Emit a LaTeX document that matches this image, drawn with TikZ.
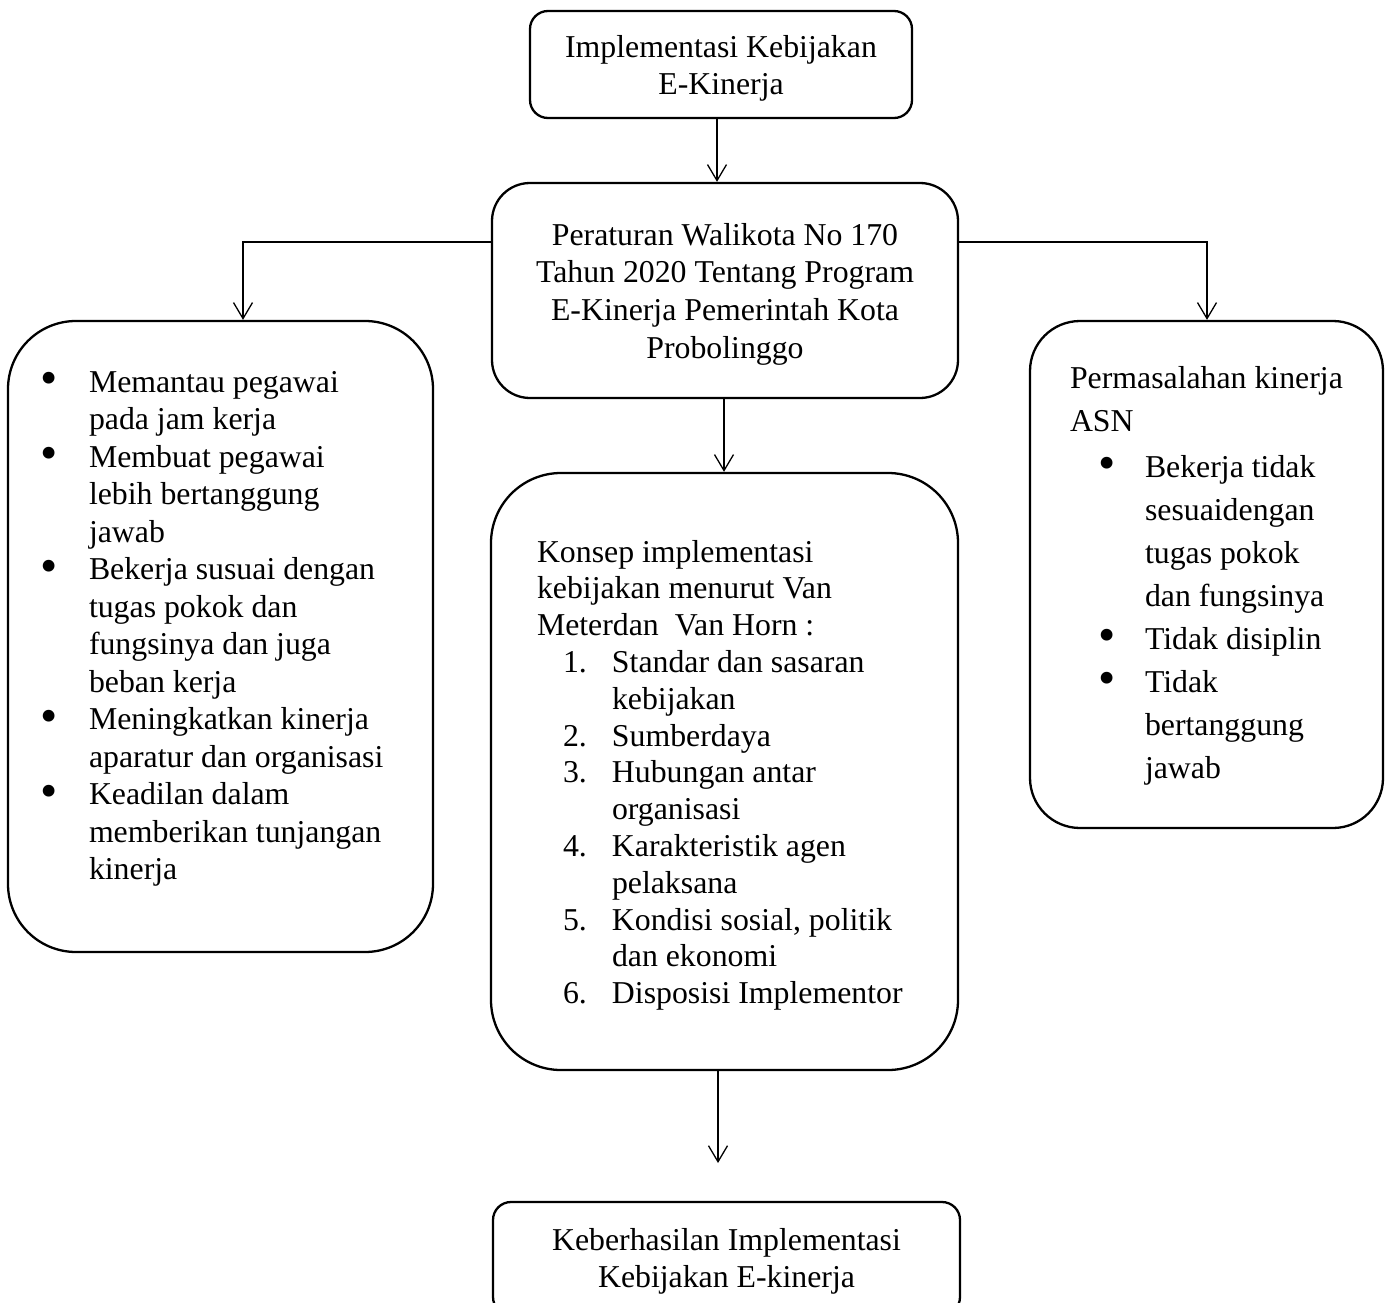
\documentclass[tikz,border=0pt]{standalone}
\usepackage{fontspec}
\usepackage{graphicx}
\setmainfont{Liberation Serif}
\usetikzlibrary{arrows.meta}
\newcommand{\bul}{\smash{\raisebox{-2.5pt}{\scalebox{1.55}{\textbullet}}}}
\tikzset{
  boxstyle/.style={draw=black, line width=2.3pt, inner sep=0pt},
  txt/.style={inner sep=0pt, outer sep=0pt},
  arr/.style={draw=black, line width=1.3pt, -{Straight Barb[length=16pt,width=19pt,line width=1.3pt]}},
  conn/.style={draw=black, line width=1.3pt},
}
\begin{document}
\begin{tikzpicture}[x=1pt,y=-1pt]
\useasboundingbox (0,0) rectangle (1392,1303);
% boxes
\node[boxstyle, rounded corners=18pt, minimum width=382pt, minimum height=107pt] (top) at (721,64.5) {};
\node[boxstyle, rounded corners=38pt, minimum width=466pt, minimum height=215pt] (per) at (725,290.5) {};
\node[boxstyle, rounded corners=68pt, minimum width=425pt, minimum height=631pt] (left) at (220.5,636.5) {};
\node[boxstyle, rounded corners=50pt, minimum width=353pt, minimum height=507pt] (right) at (1206.5,574.5) {};
\node[boxstyle, rounded corners=70pt, minimum width=467pt, minimum height=597pt] (kon) at (724.5,771.5) {};
\node[boxstyle, rounded corners=18pt, minimum width=467pt, minimum height=113pt] (bot) at (726.5,1258.5) {};
% texts
\node[txt, anchor=base, font=\fontsize{31.8pt}{37pt}\selectfont] (toptxt) at (721,58)
  {\begin{tabular}[t]{@{}c@{}}Implementasi Kebijakan\\E-Kinerja\end{tabular}};
\node[txt, anchor=base, font=\fontsize{31.8pt}{37.7pt}\selectfont] (pertxt) at (725,245)
  {\begin{tabular}[t]{@{}c@{}}Peraturan Walikota No 170\\Tahun 2020 Tentang Program\\E-Kinerja Pemerintah Kota\\Probolinggo\end{tabular}};
\node[txt, anchor=base west, font=\fontsize{31.8pt}{37.5pt}\selectfont] (lefttxt) at (40,392)
  {\begin{tabular}[t]{@{}l@{}l@{}}
  \makebox[49pt][l]{\bul} & Memantau pegawai\\
   & pada jam kerja\\
  \makebox[49pt][l]{\bul} & Membuat pegawai\\
   & lebih bertanggung\\
   & jawab\\
  \makebox[49pt][l]{\bul} & Bekerja susuai dengan\\
   & tugas pokok dan\\
   & fungsinya dan juga\\
   & beban kerja\\
  \makebox[49pt][l]{\bul} & Meningkatkan kinerja\\
   & aparatur dan organisasi\\
  \makebox[49pt][l]{\bul} & Keadilan dalam\\
   & memberikan tunjangan\\
   & kinerja
  \end{tabular}};
\node[txt, anchor=base west, font=\fontsize{31.8pt}{43pt}\selectfont] (righttxt) at (1070,388)
  {\begin{tabular}[t]{@{}l@{}l@{}l@{}}
  \multicolumn{3}{@{}l@{}}{Permasalahan kinerja}\\
  \multicolumn{3}{@{}l@{}}{ASN}\\[3pt]
  \hspace{28pt} & \makebox[47pt][l]{\bul} & Bekerja tidak\\
   & & sesuaidengan\\
   & & tugas pokok\\
   & & dan fungsinya\\
   & \makebox[47pt][l]{\bul} & Tidak disiplin\\
   & \makebox[47pt][l]{\bul} & Tidak\\
   & & bertanggung\\
   & & jawab
  \end{tabular}};
\node[txt, anchor=base west, font=\fontsize{31.8pt}{36.8pt}\selectfont] (kontxt) at (537,562)
  {\begin{tabular}[t]{@{}l@{}l@{}l@{}}
  \multicolumn{3}{@{}l@{}}{Konsep implementasi}\\
  \multicolumn{3}{@{}l@{}}{kebijakan menurut Van}\\
  \multicolumn{3}{@{}l@{}}{Meterdan\ \ Van Horn :}\\
  \hspace{26pt} & \makebox[49pt][l]{1.} & Standar dan sasaran\\
   & & kebijakan\\
   & \makebox[49pt][l]{2.} & Sumberdaya\\
   & \makebox[49pt][l]{3.} & Hubungan antar\\
   & & organisasi\\
   & \makebox[49pt][l]{4.} & Karakteristik agen\\
   & & pelaksana\\
   & \makebox[49pt][l]{5.} & Kondisi sosial, politik\\
   & & dan ekonomi\\
   & \makebox[49pt][l]{6.} & Disposisi Implementor
  \end{tabular}};
\node[txt, anchor=base, font=\fontsize{31.8pt}{37pt}\selectfont] (bottxt) at (726.5,1250)
  {\begin{tabular}[t]{@{}c@{}}Keberhasilan Implementasi\\Kebijakan E-kinerja\end{tabular}};
% connectors
\draw[arr] ([xshift=-4pt]top.south) -- ([xshift=-4pt]top.south |- per.north);
\draw[arr] ([yshift=48.5pt]per.west) -| ([xshift=22.5pt]left.north);
\draw[arr] ([yshift=48.5pt]per.east) -| ([xshift=0.5pt]right.north);
\draw[arr] ([xshift=-1pt]per.south) -- ([xshift=-0.5pt]kon.north);
\coordinate (endarr) at (718,1163);
\draw[arr] (kon.south -| endarr) -- (endarr);
\end{tikzpicture}
\end{document}
